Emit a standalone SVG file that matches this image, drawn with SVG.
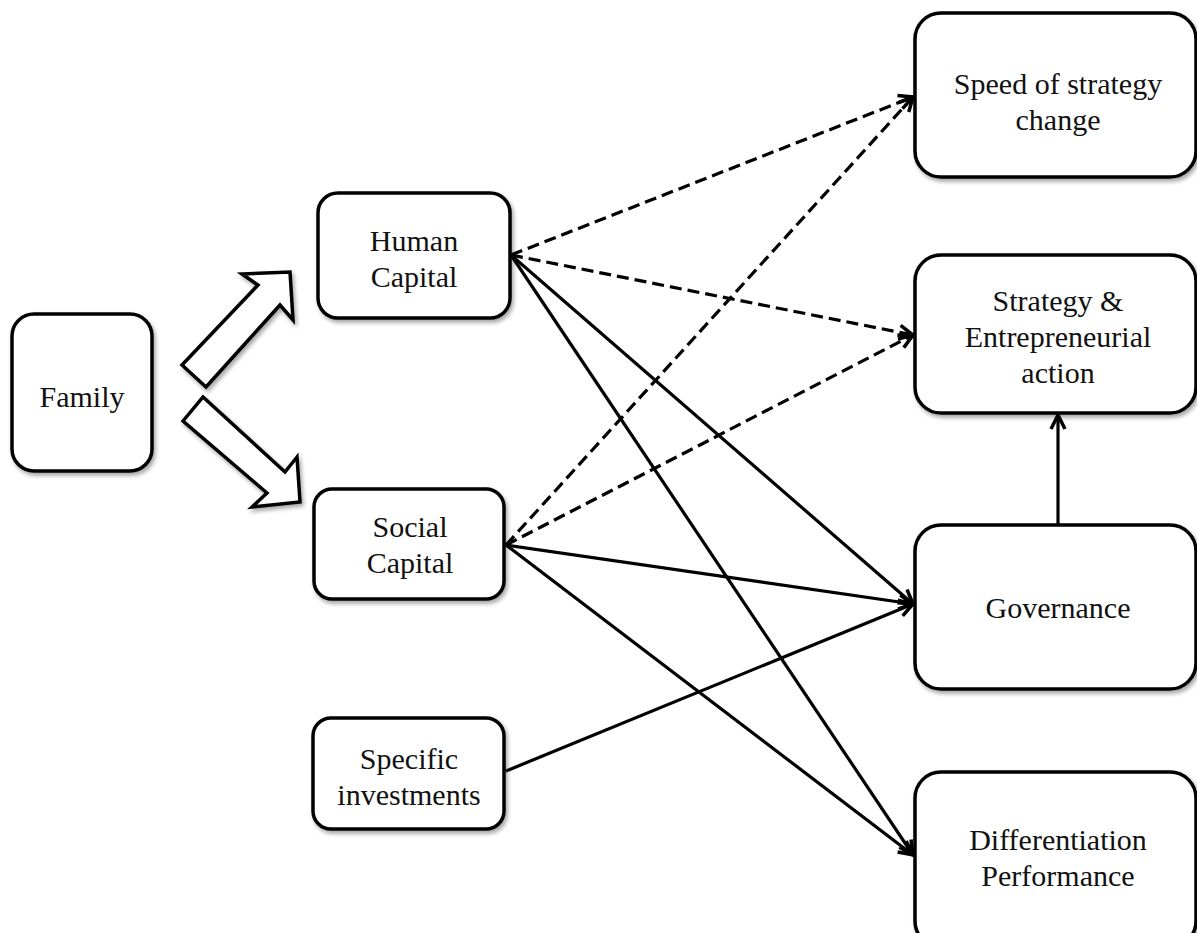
<svg xmlns="http://www.w3.org/2000/svg" width="1197" height="933" viewBox="0 0 1197 933">
<defs>
<marker id="arr" viewBox="0 0 20 20" refX="18" refY="10" markerWidth="20" markerHeight="20" markerUnits="userSpaceOnUse" orient="auto">
<path d="M4,3 L18,10 L4,17" fill="none" stroke="#000" stroke-width="3.5" stroke-linecap="butt"/>
</marker>
<filter id="sh" x="-10%" y="-10%" width="130%" height="130%">
<feGaussianBlur in="SourceAlpha" stdDeviation="2"/>
<feOffset dx="2" dy="3" result="b"/>
<feComponentTransfer><feFuncA type="linear" slope="0.35"/></feComponentTransfer>
<feMerge><feMergeNode/><feMergeNode in="SourceGraphic"/></feMerge>
</filter>
</defs>
<style>
.box{fill:#fff;stroke:#000;stroke-width:3.5;filter:url(#sh)}
.t{font-family:"Liberation Serif","Times New Roman",serif;font-size:30px;fill:#111;text-anchor:middle}
.c{fill:none;stroke:#000;stroke-width:3.2;marker-end:url(#arr)}
.d{stroke-dasharray:12,6}
.blk{fill:#fff;stroke:#000;stroke-width:3.5;stroke-linejoin:miter;filter:url(#sh)}
</style>
<rect width="1197" height="933" fill="#fff"/>
<g id="connectors">
<line class="c d" x1="511" y1="255" x2="913" y2="97"/>
<line class="c d" x1="511" y1="255" x2="913" y2="335"/>
<line class="c" x1="511" y1="255" x2="913" y2="604"/>
<line class="c" x1="511" y1="255" x2="913" y2="855"/>
<line class="c d" x1="506" y1="545" x2="913" y2="97"/>
<line class="c d" x1="506" y1="545" x2="913" y2="335"/>
<line class="c" x1="506" y1="545" x2="913" y2="604"/>
<line class="c" x1="506" y1="545" x2="913" y2="855"/>
<line class="c" x1="506" y1="771" x2="913" y2="604"/>
<line class="c" x1="1058" y1="525" x2="1058" y2="415"/>
</g>
<g id="block-arrows">
<polygon class="blk" points="182,365 258,285 242,274 290,272 293,320 280,305 206,387"/>
<polygon class="blk" points="183,421 203,397 285,472 297,457 300,502 252,507 267,493"/>
</g>
<g id="family">
<rect class="box" x="12" y="314" width="140" height="157" rx="22"/>
<text class="t" x="82" y="407">Family</text>
</g>
<g id="human-capital">
<rect class="box" x="318" y="193" width="192" height="125" rx="20"/>
<text class="t" x="414" y="251">Human</text>
<text class="t" x="414" y="287">Capital</text>
</g>
<g id="social-capital">
<rect class="box" x="314" y="489" width="190" height="110" rx="18"/>
<text class="t" x="410" y="537">Social</text>
<text class="t" x="410" y="573">Capital</text>
</g>
<g id="specific-investments">
<rect class="box" x="313" y="718" width="191" height="111" rx="18"/>
<text class="t" x="409" y="769">Specific</text>
<text class="t" x="409" y="805">investments</text>
</g>
<g id="speed">
<rect class="box" x="915" y="13" width="281" height="164" rx="26"/>
<text class="t" x="1058" y="94">Speed of strategy</text>
<text class="t" x="1058" y="130">change</text>
</g>
<g id="strategy">
<rect class="box" x="915" y="255" width="281" height="158" rx="26"/>
<text class="t" x="1058" y="311">Strategy &amp;</text>
<text class="t" x="1058" y="347">Entrepreneurial</text>
<text class="t" x="1058" y="383">action</text>
</g>
<g id="governance">
<rect class="box" x="915" y="525" width="281" height="164" rx="26"/>
<text class="t" x="1058" y="618">Governance</text>
</g>
<g id="differentiation">
<rect class="box" x="915" y="772" width="281" height="175" rx="26"/>
<text class="t" x="1058" y="850">Differentiation</text>
<text class="t" x="1058" y="886">Performance</text>
</g>
</svg>
